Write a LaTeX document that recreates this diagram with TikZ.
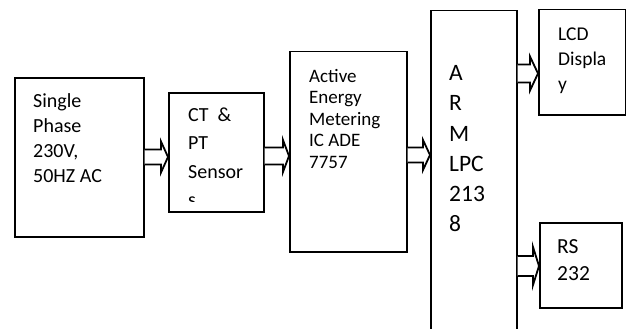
\documentclass[tikz,border=0pt]{standalone}
\usepackage{fontspec}
\setmainfont{Carlito}
\tikzset{
  blk/.style={draw=black, line width=1.5pt, rectangle, inner sep=0pt, anchor=north west},
  txt/.style={anchor=base west, inner sep=0pt, align=left},
  barrow/.style={draw=black, line width=1.8pt, fill=white, line join=miter}
}
\newcommand\blockarr[6]{%
  \draw[barrow] ([yshift=#4]#1.east |- 0,#3) -- ([xshift=-#6,yshift=#4]#2.west |- 0,#3)
    -- ([xshift=-#6,yshift=#5]#2.west |- 0,#3) -- (#2.west |- 0,#3)
    -- ([xshift=-#6,yshift=-#5]#2.west |- 0,#3) -- ([xshift=-#6,yshift=-#4]#2.west |- 0,#3)
    -- ([yshift=-#4]#1.east |- 0,#3);}
\begin{document}
\begin{tikzpicture}[x=1pt,y=-1pt]
\path[use as bounding box, clip] (0,0) rectangle (626,329);
\fill[white] (0,0) rectangle (626,329);
% boxes
\node[blk, minimum width=129pt, minimum height=159pt] (src) at (14,77) {};
\node[blk, minimum width=95pt, minimum height=119pt] (sens) at (168,92) {};
\node[blk, minimum width=117pt, minimum height=200pt] (ade) at (289,51) {};
\node[blk, minimum width=86pt, minimum height=340pt] (arm) at (430,10) {};
\node[blk, minimum width=87pt, minimum height=105pt] (lcd) at (538,9) {};
\node[blk, minimum width=82pt, minimum height=85pt] (rs) at (539,222) {};
% texts
\node[txt, font=\fontsize{20}{25}\selectfont] (srct) at (33,107)
  {\parbox[t]{105pt}{\raggedright Single\\Phase\\230V,\\50HZ AC}};
\begin{scope}
\clip (168,92) rectangle (263,201);
\node[txt, font=\fontsize{20}{28.5}\selectfont] (senst) at (188,121)
  {\parbox[t]{70pt}{\raggedright CT\ \ \&\\PT\\Sensor\\s}};
\end{scope}
\node[txt, font=\fontsize{19}{21.5}\selectfont] (adet) at (309,82)
  {\parbox[t]{90pt}{\raggedright Active\\Energy\\Metering\\IC ADE\\7757}};
\node[txt, font=\fontsize{23.5}{30}\selectfont] (armt) at (449,81)
  {\parbox[t]{60pt}{\raggedright A\\R\\M\\LPC\\213\\8}};
\node[txt, font=\fontsize{19.5}{25}\selectfont] (lcdt) at (558,41)
  {\parbox[t]{62pt}{\raggedright LCD\\Displa\\y}};
\node[txt, font=\fontsize{21.5}{27}\selectfont] (rst) at (557,253)
  {\parbox[t]{60pt}{\raggedright RS\\232}};
% block arrows
\blockarr{src}{sens}{157}{7.5pt}{15.5pt}{7pt}
\blockarr{sens}{ade}{156}{8.5pt}{16pt}{6pt}
\blockarr{ade}{arm}{155}{7.5pt}{15pt}{7pt}
\blockarr{arm}{lcd}{73.5}{9pt}{17pt}{8pt}
\blockarr{arm}{rs}{266}{10pt}{19pt}{6pt}
\end{tikzpicture}
\end{document}
